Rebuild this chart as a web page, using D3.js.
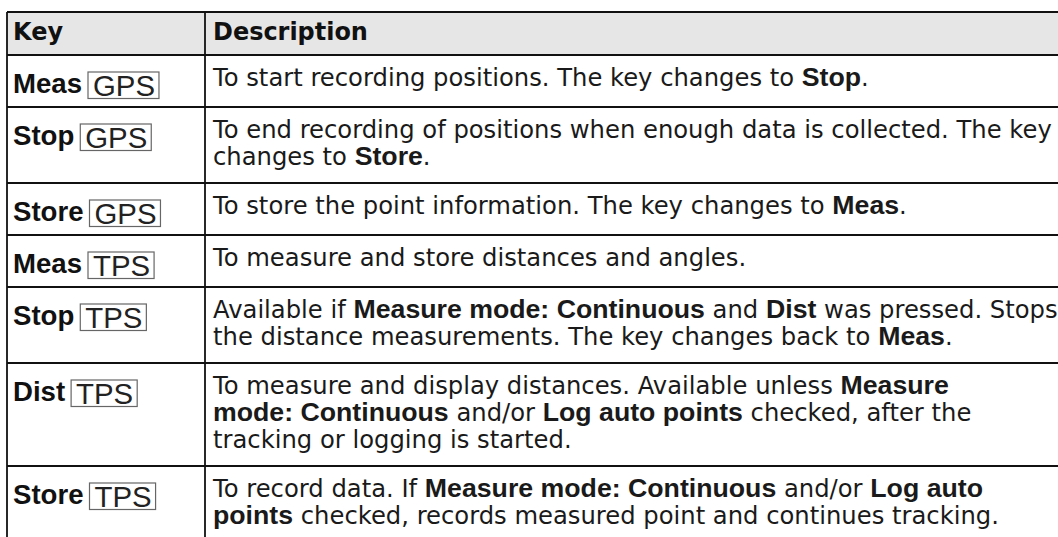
<!DOCTYPE html>
<html><head><meta charset="utf-8">
<script src="https://cdn.jsdelivr.net/npm/d3@7"></script>
<style>html,body{margin:0;padding:0;background:#fff;}svg{display:block;}svg text{white-space:pre;}</style>
</head><body>
<script>
const headers = ["Key", "Description"];
const keyNames = ["Meas", "Stop", "Store", "Meas", "Stop", "Dist", "Store"];
const keyModes = ["GPS", "GPS", "GPS", "TPS", "TPS", "TPS", "TPS"];
const descriptions = [
  ["To start recording positions. The key changes to **Stop**."],
  ["To end recording of positions when enough data is collected. The key", "changes to **Store**."],
  ["To store the point information. The key changes to **Meas**."],
  ["To measure and store distances and angles."],
  ["Available if **Measure mode: Continuous** and **Dist** was pressed. Stops", "the distance measurements. The key changes back to **Meas**."],
  ["To measure and display distances. Available unless **Measure**", "**mode: Continuous** and/or **Log auto points** checked, after the", "tracking or logging is started."],
  ["To record data. If **Measure mode: Continuous** and/or **Log auto**", "**points** checked, records measured point and continues tracking."]
];

(function() {
const W = 1058, H = 537;
const leftX = 7, divX = 205, topY = 12, headerH = 43;
const lineH = 27, padH = 22, minH = 52;
const regFont = "'DejaVu Sans', 'Noto Sans', sans-serif";
const hdrFont = "'DejaVu Sans', 'Noto Sans', sans-serif";
const boldFont = "'Liberation Sans', Arial, sans-serif";

const svg = d3.select("body").append("svg").attr("width", W).attr("height", H);

function segs(line) {
  return line.split("**").map((s, i) => ({ s, bold: i % 2 === 1 })).filter(d => d.s);
}
function lineWidth(line, rs, bs) {
  const t = svg.append("text").attr("x", -3000).attr("y", -3000);
  segs(line).forEach(sg => t.append("tspan").text(sg.s)
    .attr("font-family", sg.bold ? boldFont : regFont)
    .attr("font-weight", sg.bold ? 700 : 400)
    .attr("font-size", sg.bold ? bs : rs));
  const w = t.node().getComputedTextLength();
  t.remove();
  return w;
}
function measure(str, family, weight, size) {
  const t = svg.append("text").attr("font-family", family).attr("font-weight", weight)
    .attr("font-size", size).attr("x", -3000).attr("y", -3000).text(str);
  const w = t.node().getComputedTextLength();
  t.remove();
  return w;
}
// fit font sizes to line widths
const regSize = 100 * 839 / lineWidth(descriptions[1][0], 100, 100);
const fitLine = descriptions[6][0];
const w0 = lineWidth(fitLine, regSize, 0.001);
const w100 = lineWidth(fitLine, regSize, 100);
let boldSize = 100 * (770 - w0) / (w100 - w0);
boldSize = Math.max(16, Math.min(30, boldSize));
const hdrSize = 100 * 155 / measure("Description", hdrFont, 700, 100);
const keySize = 100 * 69 / measure("Meas", boldFont, 700, 100);
const modeSize = 100 * 62 / measure("GPS", boldFont, 400, 100);

const heights = descriptions.map(d => Math.max(minH, padH + lineH * d.length));
const tops = [];
let acc = topY + headerH;
heights.forEach(h => { tops.push(acc); acc += h; });

svg.append("rect").attr("x", leftX).attr("y", topY).attr("width", W - leftX).attr("height", headerH).attr("fill", "#e6e6e6");
svg.selectAll("text.hdr").data(headers).join("text").attr("class", "hdr")
  .attr("x", (d, i) => i === 0 ? leftX + 6 : divX + 8)
  .attr("y", topY + 28)
  .attr("font-family", hdrFont).attr("font-weight", 700).attr("font-size", hdrSize)
  .attr("fill", "#111").text(d => d);

const rows = svg.selectAll("g.row").data(descriptions).join("g").attr("class", "row")
  .attr("transform", (d, i) => `translate(0,${tops[i]})`);

rows.append("text").attr("class", "klbl").attr("x", leftX + 6).attr("y", 38)
  .attr("font-family", boldFont).attr("font-weight", 700).attr("font-size", keySize)
  .attr("fill", "#111").text((d, i) => keyNames[i]);

rows.each(function(d, i) {
  const g = d3.select(this);
  const lw = g.select("text.klbl").node().getComputedTextLength();
  const bx = leftX + 6 + lw + 6;
  const rect = g.append("rect");
  const t = g.append("text").attr("x", bx + 5).attr("y", 41)
    .attr("font-family", boldFont).attr("font-size", modeSize).attr("fill", "#222").text(keyModes[i]);
  const tw = t.node().getComputedTextLength();
  rect.attr("x", bx).attr("y", 17).attr("width", tw + 9).attr("height", 26.5)
    .attr("fill", "#fff").attr("stroke", "#666").attr("stroke-width", 1.2);
});

rows.each(function(d) {
  const g = d3.select(this);
  d.forEach((line, li) => {
    const t = g.append("text").attr("x", divX + 8).attr("y", 31 + li * lineH).attr("fill", "#1a1a1a");
    segs(line).forEach(sg => {
      t.append("tspan").text(sg.s)
        .attr("font-family", sg.bold ? boldFont : regFont)
        .attr("font-weight", sg.bold ? 700 : 400)
        .attr("font-size", sg.bold ? boldSize : regSize);
    });
  });
});

const hLines = [topY, topY + headerH, ...tops.slice(1)];
svg.selectAll("line.h").data(hLines).join("line").attr("class", "h")
  .attr("x1", leftX).attr("x2", W).attr("y1", d => d).attr("y2", d => d)
  .attr("stroke", "#111").attr("stroke-width", 1.8);
svg.selectAll("line.v").data([leftX, divX]).join("line").attr("class", "v")
  .attr("x1", d => d).attr("x2", d => d).attr("y1", topY).attr("y2", H)
  .attr("stroke", "#111").attr("stroke-width", 1.8);
})();
</script>
</body></html>
